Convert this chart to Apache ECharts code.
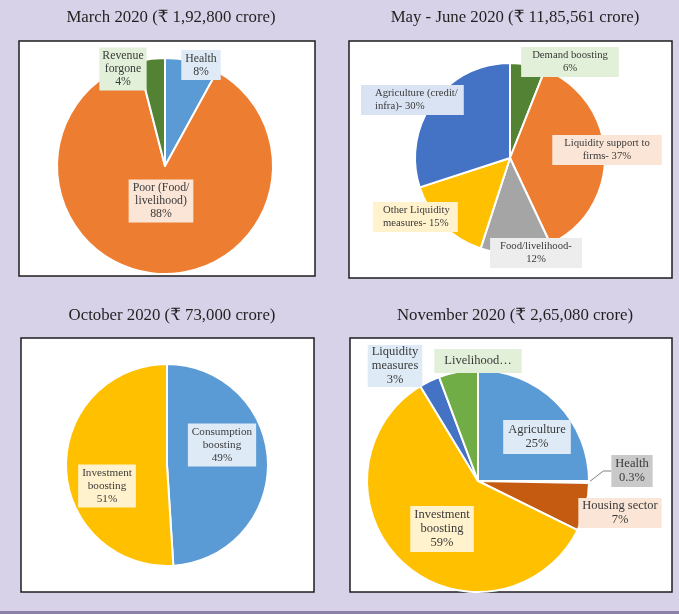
<!DOCTYPE html>
<html><head><meta charset="utf-8">
<script src="https://cdn.jsdelivr.net/npm/echarts@6/dist/echarts.min.js"></script>
<style>html,body{margin:0;padding:0;background:#D8D2E8}#c{width:679px;height:614px}</style>
</head><body><div id="c"></div><script>
// ---- data ----
const titles = ['March 2020 (₹ 1,92,800 crore)', 'May - June 2020 (₹ 11,85,561 crore)', 'October 2020 (₹ 73,000 crore)', 'November 2020 (₹ 2,65,080 crore)'];

const marCats = ['Health', 'Poor (Food/livelihood)', 'Revenue forgone'];
const marVals = [8, 88, 4];
const marLabels = ['Health\n8%', 'Poor (Food/\nlivelihood)\n88%', 'Revenue\nforgone\n4%'];

const mayCats = ['Demand boosting', 'Liquidity support to firms', 'Food/livelihood', 'Other Liquidity measures', 'Agriculture (credit/infra)'];
const mayVals = [6, 37, 12, 15, 30];
const mayLabels = ['Demand boosting\n6%', 'Liquidity support to\nfirms- 37%', 'Food/livelihood-\n12%', 'Other Liquidity\nmeasures- 15%', 'Agriculture (credit/\ninfra)- 30%'];

const octCats = ['Consumption boosting', 'Investment boosting'];
const octVals = [49, 51];
const octLabels = ['Consumption\nboosting\n49%', 'Investment\nboosting\n51%'];

const novCats = ['Agriculture', 'Health', 'Housing sector', 'Investment boosting', 'Liquidity measures', 'Livelihood'];
const novVals = [25, 0.3, 7, 59, 3, 5.7];
const novLabels = ['Agriculture\n25%', 'Health\n0.3%', 'Housing sector\n7%', 'Investment\nboosting\n59%', 'Liquidity\nmeasures\n3%', 'Livelihood…'];

// ---- styles / layout ----
const panels = [
  {cats: marCats, vals: marVals, labels: marLabels, center: [165, 166], r: 108, font: 11.8, lh: 13,
   colors: ['#5B9BD5', '#ED7D31', '#548235'], bgs: ['#DEEBF7', '#FBE5D6', '#E2F0D9'],
   pads: [[2, 4], [2, 4], [2, 3]],
   pos: [[201, 65, 'center'], [161, 201, 'center'], [123, 69, 'center']]},
  {cats: mayCats, vals: mayVals, labels: mayLabels, center: [510, 158], r: 95, font: 10.7, lh: 13,
   colors: ['#548235', '#ED7D31', '#A5A5A5', '#FFC000', '#4472C4'], bgs: ['#E2F0D9', '#FBE5D6', '#EDEDED', '#FFF2CC', '#DAE3F3'],
   pads: [[2, 11], [2, 12], [2, 10], [2, 8, 2, 10], [2, 6, 2, 14]],
   pos: [[570, 62, 'center'], [607, 150, 'center'], [536, 253, 'center'], [373, 217, 'left'], [361, 100, 'left']]},
  {cats: octCats, vals: octVals, labels: octLabels, center: [167, 465], r: 101, font: 11.2, lh: 13,
   colors: ['#5B9BD5', '#FFC000'], bgs: ['#DEEBF7', '#FFF2CC'],
   pads: [[2, 4], [2, 4]],
   pos: [[222, 445, 'center'], [107, 486, 'center']]},
  {cats: novCats, vals: novVals, labels: novLabels, center: [478, 481], r: 111, font: 12.5, lh: 14,
   colors: ['#5B9BD5', '#A5A5A5', '#C55A11', '#FFC000', '#4472C4', '#70AD47'],
   bgs: ['#DEEBF7', '#C9C9C9', '#FBE5D6', '#FFF2CC', '#DEEBF7', '#E2F0D9'],
   pads: [[3, 5], [2, 4], [1, 4], [2, 4], [0, 4], [6, 10, 4, 10]],
   pos: [[537, 437, 'center'], [632, 471, 'center'], [620, 513, 'center'], [442, 529, 'center'], [395, 366, 'center'], [478, 361, 'center']],
   lineIdx: 1}
];
const boxes = [[19, 41, 296, 235], [349, 41, 323, 237], [21, 338, 293, 254], [350, 338, 322, 254]];
const titlePos = [[166, 4], [510, 4], [167, 302], [510, 302]];
const serif = '"Liberation Serif", "DejaVu Serif", serif';

const chart = echarts.init(document.getElementById('c'), null, {renderer: 'canvas'});

const series = panels.map((p, si) => ({
  type: 'pie',
  center: p.center,
  radius: p.r,
  startAngle: 90,
  clockwise: true,
  avoidLabelOverlap: false,
  animation: false,
  itemStyle: {borderColor: '#ffffff', borderWidth: 2},
  label: {show: true, position: 'outside', fontFamily: serif, fontSize: p.font, lineHeight: p.lh, color: '#3A3A3A'},
  labelLine: {show: false},
  labelLayout: function (params) {
    const q = p.pos[params.dataIndex];
    return {x: q[0], y: q[1], align: q[2], verticalAlign: 'middle'};
  },
  data: p.cats.map((c, i) => ({
    name: c,
    value: p.vals[i],
    itemStyle: {color: p.colors[i]},
    label: {formatter: p.labels[i], backgroundColor: p.bgs[i], padding: p.pads[i], align: p.pos[i][2]},
    labelLine: {show: p.lineIdx === i, length: 6, length2: 8, lineStyle: {color: '#7F7F7F', width: 1}}
  }))
}));

const graphics = boxes.map(b => ({
  type: 'rect', z: 0, silent: true,
  shape: {x: b[0], y: b[1], width: b[2], height: b[3]},
  style: {fill: '#ffffff', stroke: '#1E1E1E', lineWidth: 1.5}
}));
graphics.push({type: 'rect', z: 0, silent: true, shape: {x: 0, y: 611, width: 679, height: 3}, style: {fill: '#8A80A8'}});

chart.setOption({
  backgroundColor: '#D8D2E8',
  animation: false,
  title: titles.map((t, i) => ({
    text: t, left: titlePos[i][0], top: titlePos[i][1], textAlign: 'center',
    textStyle: {fontFamily: serif, fontSize: 16.8, fontWeight: 'normal', color: '#231F20'}
  })),
  graphic: graphics,
  series: series
});
</script></body></html>
